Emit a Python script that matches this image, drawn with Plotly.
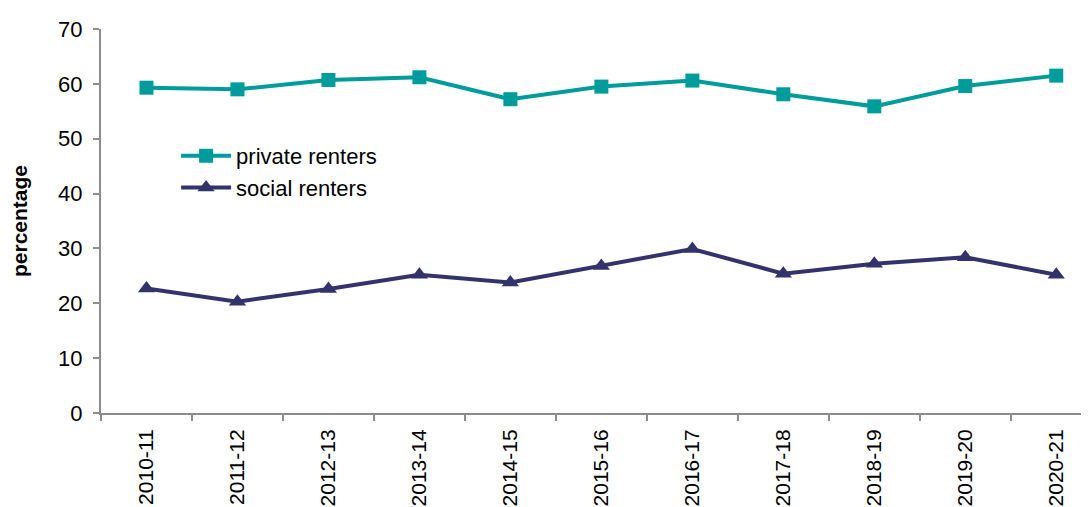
import plotly.graph_objects as go

years = ["2010-11", "2011-12", "2012-13", "2013-14", "2014-15", "2015-16",
         "2016-17", "2017-18", "2018-19", "2019-20", "2020-21"]
private_renters = [59.3, 59.0, 60.7, 61.2, 57.2, 59.5, 60.6, 58.1, 55.9, 59.6, 61.5]
social_renters = [22.7, 20.3, 22.6, 25.2, 23.8, 26.8, 29.9, 25.4, 27.2, 28.4, 25.2]

teal = "#009B9B"
navy = "#33336B"
axis_grey = "#8C8C8C"

fig = go.Figure()
fig.add_trace(go.Scatter(
    x=years, y=private_renters, name="private renters", mode="lines+markers",
    line=dict(color=teal, width=4), marker=dict(symbol="square", size=14, color=teal)))
fig.add_trace(go.Scatter(
    x=years, y=social_renters, name="social renters", mode="lines+markers",
    line=dict(color=navy, width=4), marker=dict(symbol="triangle-up", size=15, color=navy)))

fig.update_layout(
    width=1081, height=499,
    margin=dict(l=93, r=0, t=21, b=94),
    paper_bgcolor="white", plot_bgcolor="white",
    font=dict(family="Liberation Sans, Arial, sans-serif", size=22, color="#000000"),
    showlegend=True,
    legend=dict(x=0.076, y=0.724, xanchor="left", yanchor="top",
                bgcolor="rgba(0,0,0,0)", font=dict(size=22), itemwidth=50,
                tracegroupgap=0),
    xaxis=dict(type="category", range=[-0.5, 10.36], showline=True, linecolor=axis_grey,
               linewidth=2, ticks="outside", tickson="boundaries", ticklen=6,
               tickcolor=axis_grey, tickwidth=2, tickangle=-90, showgrid=False,
               zeroline=False, tickfont=dict(size=21), automargin=False,
               ticklabelstandoff=6),
    yaxis=dict(range=[0, 70], dtick=10, showline=True, linecolor=axis_grey, linewidth=2,
               ticks="outside", ticklen=6, tickcolor=axis_grey, tickwidth=2,
               showgrid=False, zeroline=False, tickfont=dict(size=22), automargin=False,
               ticklabelstandoff=6,
               title=dict(text="<b>percentage</b>", font=dict(size=21), standoff=27)),
)

fig.write_html("out.html")
